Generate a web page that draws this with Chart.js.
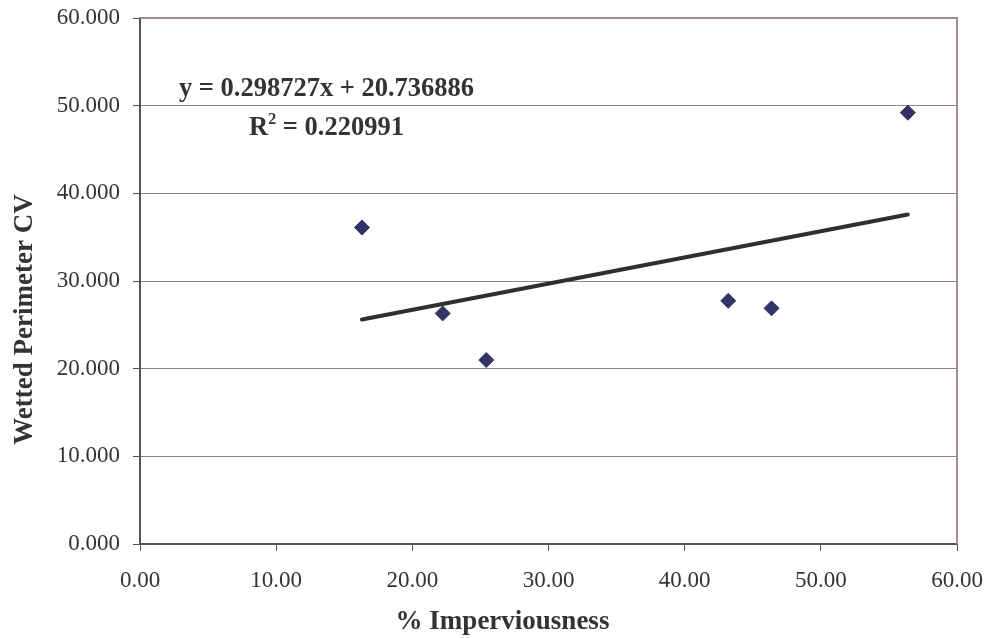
<!DOCTYPE html>
<html>
<head>
<meta charset="utf-8">
<script src="https://cdn.jsdelivr.net/npm/chart.js@4/dist/chart.umd.min.js"></script>
<style>
html, body { margin: 0; padding: 0; background: #ffffff; }
#c { display: block; }
</style>
</head>
<body>
<canvas id="c" width="990" height="638"></canvas>
<script>
// ---- data ----
const imperviousness = [16.30, 22.23, 25.43, 43.20, 46.38, 56.39];
const wettedPerimeterCV = [36.10, 26.30, 20.98, 27.74, 26.88, 49.20];
const trendSlope = 0.298727;
const trendIntercept = 20.736886;
const rSquared = '0.220991';
const xTickValues = [0, 10, 20, 30, 40, 50, 60];
const yTickValues = [0, 10, 20, 30, 40, 50, 60];
const xTitle = '% Imperviousness';
const yTitle = 'Wetted Perimeter CV';
const equationText = 'y = 0.298727x + 20.736886';

const points = imperviousness.map((x, i) => ({ x: x, y: wettedPerimeterCV[i] }));
const xMin = Math.min(...imperviousness);
const xMax = Math.max(...imperviousness);
const trendPoints = [
  { x: xMin, y: trendSlope * xMin + trendIntercept },
  { x: xMax, y: trendSlope * xMax + trendIntercept }
];

const SERIF = "'Liberation Serif', 'Times New Roman', Times, serif";
const AXIS_DARK = '#5b5252';
const FRAME_LIGHT = '#9b8f8f';
const TEXT = '#333333';

function zeroPadding(scale) {
  scale.paddingTop = 0;
  scale.paddingBottom = 0;
  scale.paddingLeft = 0;
  scale.paddingRight = 0;
}

const framePlugin = {
  id: 'frame',
  afterDraw(chart) {
    const { ctx, chartArea: a } = chart;
    ctx.save();
    ctx.strokeStyle = FRAME_LIGHT;
    ctx.lineWidth = 2;
    ctx.beginPath();
    ctx.moveTo(a.left, a.top);
    ctx.lineTo(a.right, a.top);
    ctx.lineTo(a.right, a.bottom);
    ctx.stroke();

    ctx.fillStyle = TEXT;
    ctx.textBaseline = 'alphabetic';

    // axis titles (offset like the reference)
    ctx.font = 'bold 27px ' + SERIF;
    ctx.textAlign = 'center';
    ctx.fillText(xTitle, 502.5, 629);
    ctx.save();
    ctx.translate(32, 319.5);
    ctx.rotate(-Math.PI / 2);
    ctx.fillText(yTitle, 0, 0);
    ctx.restore();

    // equation annotation
    const cx = 326.5;
    ctx.font = 'bold 26.5px ' + SERIF;
    ctx.textAlign = 'center';
    ctx.fillText(equationText, cx, 96);

    const part1 = 'R';
    const part3 = ' = ' + rSquared;
    ctx.font = 'bold 26.5px ' + SERIF;
    const w1 = ctx.measureText(part1).width;
    const w3 = ctx.measureText(part3).width;
    ctx.font = 'bold 16px ' + SERIF;
    const w2 = ctx.measureText('2').width;
    const total = w1 + w2 + w3;
    const x0 = cx - total / 2;
    const base2 = 135;
    ctx.textAlign = 'left';
    ctx.font = 'bold 26.5px ' + SERIF;
    ctx.fillText(part1, x0, base2);
    ctx.font = 'bold 16px ' + SERIF;
    ctx.fillText('2', x0 + w1, base2 - 11);
    ctx.font = 'bold 26.5px ' + SERIF;
    ctx.fillText(part3, x0 + w1 + w2, base2);
    ctx.restore();
  }
};

new Chart(document.getElementById('c'), {
  type: 'scatter',
  data: {
    datasets: [
      {
        label: 'Wetted Perimeter CV',
        data: points,
        pointStyle: 'rectRot',
        pointRadius: 7.5,
        pointHoverRadius: 7.5,
        backgroundColor: '#333366',
        borderColor: '#333366',
        borderWidth: 1,
        order: 1
      },
      {
        label: 'Linear trend',
        type: 'line',
        data: trendPoints,
        showLine: true,
        pointRadius: 0,
        borderColor: '#2f2f33',
        borderWidth: 4,
        borderCapStyle: 'round',
        fill: false,
        order: 2
      }
    ]
  },
  options: {
    responsive: false,
    animation: false,
    devicePixelRatio: 1,
    layout: { padding: { top: 18, right: 33, left: 0, bottom: 0 } },
    plugins: {
      legend: { display: false },
      tooltip: { enabled: false }
    },
    scales: {
      x: {
        type: 'linear',
        min: 0,
        max: 60,
        afterBuildTicks(scale) { scale.ticks = xTickValues.map(v => ({ value: v })); },
        afterFit(scale) { scale.height = 94; zeroPadding(scale); },
        ticks: {
          callback: v => Number(v).toFixed(2),
          font: { family: SERIF, size: 23 },
          color: TEXT,
          padding: 16,
          maxRotation: 0
        },
        grid: {
          drawOnChartArea: false,
          drawTicks: true,
          tickLength: 7,
          tickColor: AXIS_DARK,
          tickWidth: 1
        },
        border: { display: true, color: AXIS_DARK, width: 2 },
        title: { display: false }
      },
      y: {
        type: 'linear',
        min: 0,
        max: 60,
        afterBuildTicks(scale) { scale.ticks = yTickValues.map(v => ({ value: v })); },
        afterFit(scale) { scale.width = 140; zeroPadding(scale); },
        ticks: {
          callback: v => Number(v).toFixed(3),
          font: { family: SERIF, size: 23 },
          color: TEXT,
          padding: 13
        },
        grid: {
          color: '#888888',
          lineWidth: 1,
          drawTicks: true,
          tickLength: 7,
          tickColor: AXIS_DARK,
          tickWidth: 1
        },
        border: { display: true, color: AXIS_DARK, width: 2 },
        title: { display: false }
      }
    }
  },
  plugins: [framePlugin]
});
</script>
</body>
</html>
